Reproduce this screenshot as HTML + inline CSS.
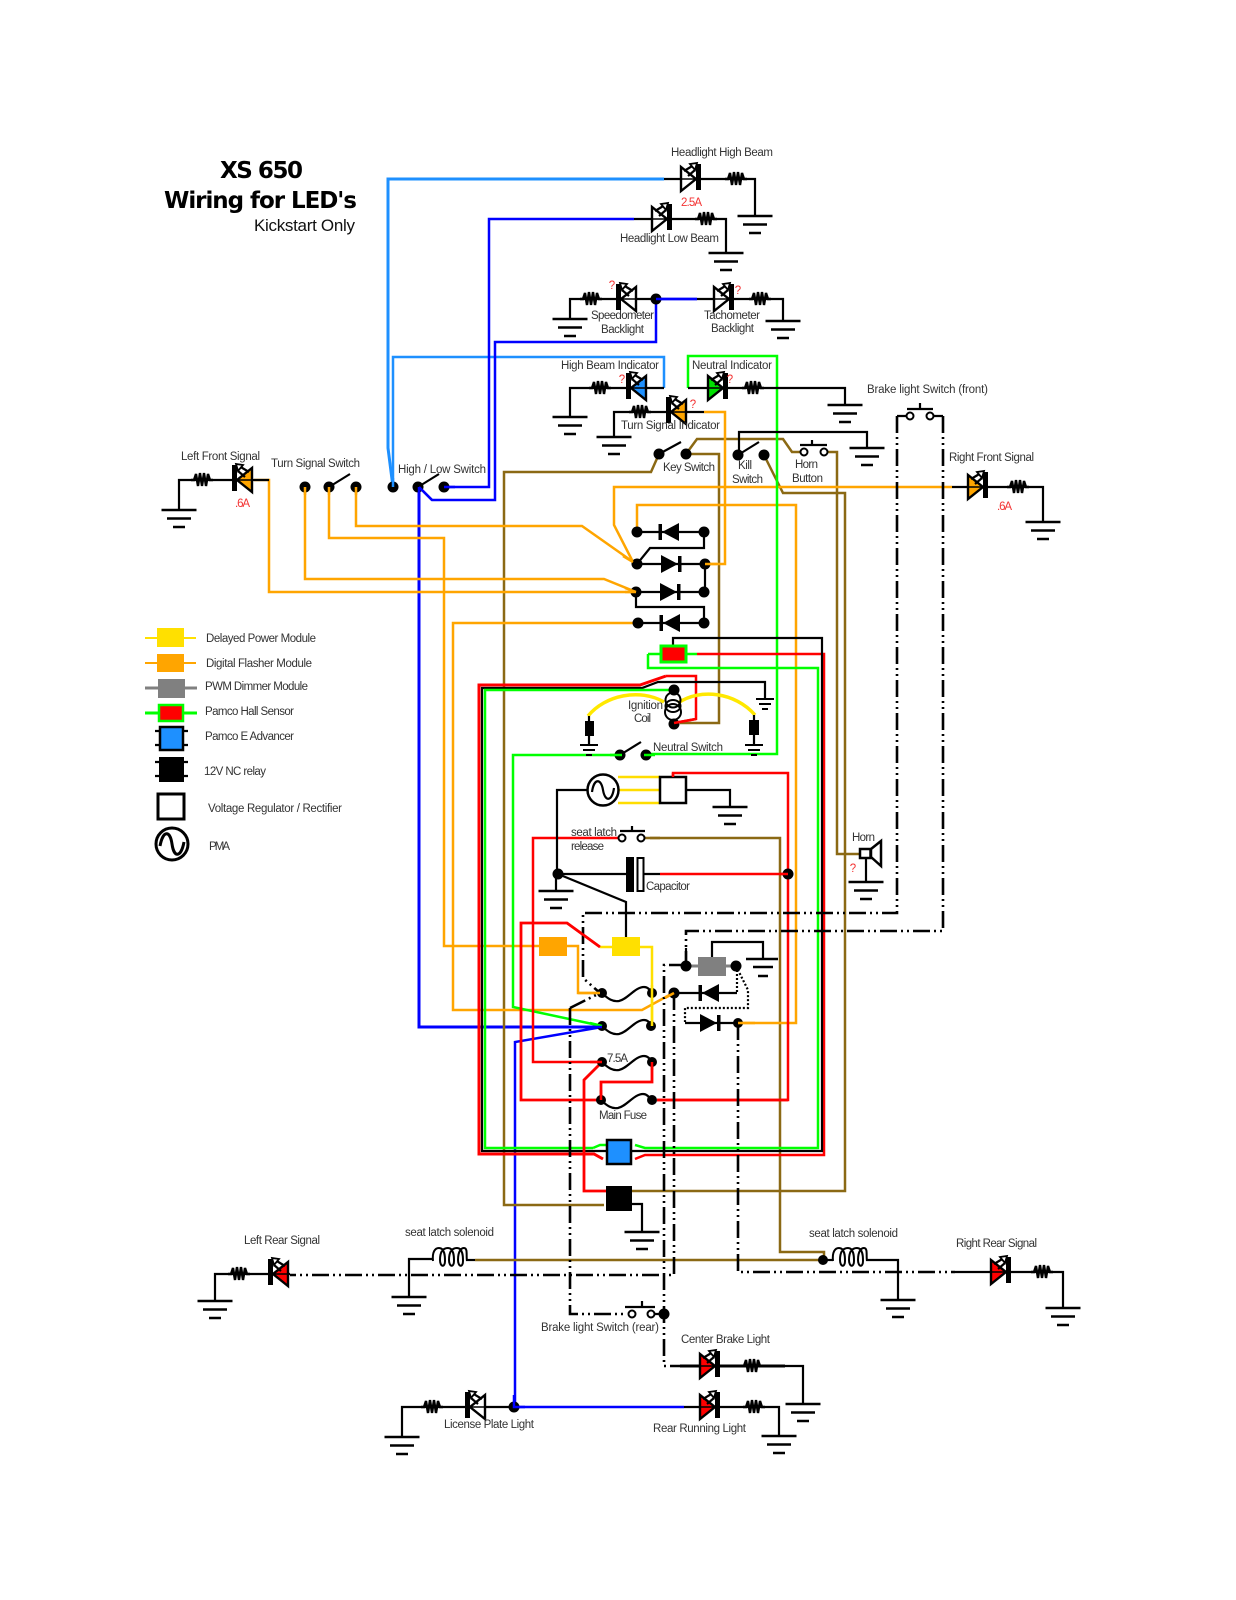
<!DOCTYPE html>
<html><head><meta charset="utf-8"><title>XS 650 Wiring for LED's</title>
<style>
html,body{margin:0;padding:0;background:#fff}
svg{display:block}
path,line{fill:none;stroke-linejoin:miter}
.k{stroke:#000;stroke-width:2.2}
.kt{stroke:#000;stroke-width:3}
.o{stroke:#FFA500;stroke-width:2.5}
.b{stroke:#0000FF;stroke-width:2.5}
.l{stroke:#1E90FF;stroke-width:2.5}
.lt{stroke:#1E90FF;stroke-width:3}
.g{stroke:#00FF00;stroke-width:2.5}
.r{stroke:#FF0000;stroke-width:2.5}
.rt{stroke:#FF0000;stroke-width:2.8}
.n{stroke:#8B6914;stroke-width:2.5}
.y{stroke:#FFE000;stroke-width:2.5}
.yt{stroke:#FFE800;stroke-width:3.5}
.d{stroke:#000;stroke-width:2.6;stroke-dasharray:17 4 2 4 2 4}
.dot{stroke:#000;stroke-width:2.2;stroke-dasharray:2 2}
text{font-family:"Liberation Sans",sans-serif;font-size:11.5px;fill:#333}
.q{fill:#f33333}
</style></head><body>
<svg width="1236" height="1600" viewBox="0 0 1236 1600" xmlns="http://www.w3.org/2000/svg">
<defs>
<g id="gnd"><path class="k" d="M-17.5,0H17.5M-12,8.5H12M-6,17H6" style="stroke-width:2.4"/></g>
<g id="sg"><path class="k" d="M-9,0H9M-6,5H6M-3,10H3" style="stroke-width:2"/></g>
<g id="res"><path class="k" d="M-11,0H-8L-6,-6L-4,6L-2,-7L0,6L2,-7L4,6L6,-6L8,0H11" style="stroke-width:2.4"/></g>
<g id="led"><path d="M-15,-12L-15,12L0,0Z" stroke="#000" stroke-width="2.4" style="fill:inherit"/><rect x="0" y="-15" width="5" height="26" fill="#000"/><path class="k" d="M-17,0H6" style="stroke-width:1.6"/><path class="k" d="M-12,-8L-2,-14M-8,-3L-1,-9"/><path d="M-6,-15L1,-16L-1,-9Z" stroke="#000" stroke-width="1.8" style="fill:#fff"/></g>
<g id="dio"><path d="M-9,-9V9L8,0Z" style="fill:#000"/><rect x="8" y="-8" width="3.5" height="16" fill="#000"/></g>
<g id="coil"><path class="k" d="M0,1C-1,-8 2,-12 6,-12C12,-12 12,-3 12,1C12,8 7,7 7,0C7,-10 11,-12 15,-12C21,-12 21,-3 21,1C21,8 16,7 16,0C16,-10 20,-12 24,-12C30,-12 30,-3 30,1C30,8 25,7 25,0C25,-10 29,-12 31,-12C35,-12 33,-4 34,1" style="stroke-width:2"/></g>
<path id="fuse" class="k" d="M0,0C6,6 11,9 17,8C26,6 33,-6 42,-6C46,-6 48,-3 50,0"/>
</defs>

<!-- Title -->
<text x="220" y="178" textLength="83" style="font-family:'DejaVu Sans',sans-serif;font-weight:bold;font-size:23px;fill:#000">XS 650</text>
<text x="164" y="208" textLength="193" style="font-family:'DejaVu Sans',sans-serif;font-weight:bold;font-size:23px;fill:#000">Wiring for LED's</text>
<text x="254" y="231" textLength="101" style="font-size:17px;fill:#111">Kickstart Only</text>

<!-- Long colored wires -->
<path class="lt" d="M664,179H388V448L393,487"/>
<path class="l" d="M393,487V357H664V388"/>
<path class="b" d="M634,219H489V487H444"/>
<path class="b" d="M656,299V342H495V500H432L419,487"/>
<path class="b" d="M697,299H656"/>
<path class="b" style="stroke-width:3" d="M419,487V1027H602"/>
<path class="b" d="M602,1027L515,1042V1407H684"/>

<path class="n" d="M659,454L651,472H504V1205H604"/>
<path class="n" d="M690,454H719V723H680"/>
<path class="n" d="M686,454L697,439H783L792,452H800"/>
<path class="n" d="M828,452H837V854H859"/>
<path class="n" d="M764,455L783,493H845V1191H631"/>
<path class="n" d="M475,1260H823M824,1259V1252H780V838H650"/>

<path class="o" d="M704,412H725V564H705"/>
<path class="o" d="M952,487H614V525L633,562"/>
<path class="o" d="M637,532V505H796V1023H738"/>
<path class="o" d="M356,487V526H582L636,564"/>
<path class="o" d="M329,487V538H444V946H539"/>
<path class="o" d="M305,487V579H604L636,592"/>
<path class="o" d="M254,480H269V592H636"/>
<path class="o" d="M638,623H453V1010H642L673,993"/>
<path class="o" d="M567,946H578V993H602"/>

<path class="g" d="M688,388V356H777V754H646"/>
<path class="g" d="M620,755H513V1007L602,1026"/>

<!-- Frame -->
<path class="rt" style="stroke-width:3" d="M666,676L640,685H479V1154H594L603,1159"/>
<path class="r" d="M666,676H696V719L674,723"/>
<path class="r" d="M697,654H824V1155H645L635,1159"/>
<path class="k" style="stroke-width:2.2" d="M673,645V638H822V1151H482V688H642L658,682H765V699"/>
<path class="g" d="M648,654V668H818V1148H645L635,1145"/>
<path class="g" d="M593,1148L600,1145H606"/>
<path class="g" d="M674,690H485V1148H593"/>
<path class="g" d="M660,654H648M687,654H697"/>

<!-- Red wiring -->
<path class="r" d="M673,777V773H788V1100H657"/>
<path class="rt" d="M657,1100H788"/>
<path class="rt" d="M601,1100H521V923H567L600,947"/>
<path class="r" d="M620,838H533V1062H602"/>
<path class="rt" d="M602,1062L584,1080V1191H606"/>
<path class="rt" d="M652,1062V1082H601V1100"/>
<path class="r" d="M660,874H788"/>

<!-- Dash-dot -->
<path class="d" d="M897,416V913H583V978L600,993"/>
<path class="d" d="M943,416V931H686V965"/>
<path class="d" d="M570,1008L600,993"/>
<path class="d" d="M570,1008V1314H627"/>
<path class="d" d="M686,965H664V1366H680"/>
<path class="d" d="M674,993V1275H290"/>
<path class="d" d="M738,1023V1272H955"/>
<path class="dot" d="M737,966V993"/>
<path class="dot" d="M736,966L748,990V1008H685V1022"/>

<!-- Headlights -->
<path class="k" d="M664,179H755V216"/>
<use href="#led" x="696" y="179" fill="#fff"/><use href="#res" x="736" y="179"/><use href="#gnd" x="755" y="216"/>
<text x="681" y="206" textLength="21" class="q">2.5A</text>
<text x="671" y="156" textLength="102">Headlight High Beam</text>
<path class="k" d="M634,219H726V253"/>
<use href="#led" x="667" y="219" fill="#fff"/><use href="#res" x="706" y="219"/><use href="#gnd" x="726" y="253"/>
<text x="620" y="242" textLength="99">Headlight Low Beam</text>

<!-- Backlights -->
<path class="k" d="M656,299H570V319"/>
<g transform="translate(621,299) scale(-1,1)"><use href="#led" fill="#fff"/></g>
<use href="#res" x="591" y="299"/><use href="#gnd" x="570" y="319"/>
<path class="k" d="M697,299H783V321"/>
<use href="#led" x="729" y="299" fill="#fff"/><use href="#res" x="760" y="299"/><use href="#gnd" x="783" y="321"/>
<circle cx="656" cy="299" r="5.5"/>
<path class="b" d="M656,299H697"/>
<text x="612" y="289" class="q" text-anchor="middle">?</text><text x="738" y="294" class="q" text-anchor="middle">?</text>
<text x="591" y="319" textLength="63">Speedometer</text><text x="601" y="333" textLength="43">Backlight</text>
<text x="704" y="319" textLength="56">Tachometer</text><text x="711" y="332" textLength="43">Backlight</text>

<!-- Indicators -->
<path class="k" d="M664,388H570V417"/>
<g transform="translate(631,388) scale(-1,1)"><use href="#led" fill="#1E90FF"/></g>
<use href="#res" x="600" y="388"/><use href="#gnd" x="570" y="417"/>
<path class="k" d="M688,388H845V405"/>
<use href="#led" x="723" y="388" fill="#00E000"/><use href="#res" x="753" y="388"/><use href="#gnd" x="845" y="405"/>
<path class="k" d="M704,412H614V437"/>
<g transform="translate(671,412) scale(-1,1)"><use href="#led" fill="#FFA500"/></g>
<use href="#res" x="640" y="412"/><use href="#gnd" x="614" y="437"/>
<text x="561" y="369" textLength="98">High Beam Indicator</text><text x="622" y="383" class="q" text-anchor="middle">?</text>
<text x="692" y="369" textLength="80">Neutral Indicator</text><text x="730" y="383" class="q" text-anchor="middle">?</text>
<text x="621" y="429" textLength="99">Turn Signal Indicator</text><text x="693" y="408" class="q" text-anchor="middle">?</text>

<!-- Switches top -->
<circle cx="659" cy="454" r="5.5"/><circle cx="686" cy="454" r="5.5"/><path class="k" d="M659,454L681,442"/>
<text x="663" y="471" textLength="52">Key Switch</text>
<path class="k" d="M739,455V432H867V448"/><use href="#gnd" x="867" y="448"/>
<circle cx="738" cy="455" r="5.5"/><circle cx="764" cy="455" r="5.5"/><path class="k" d="M738,455L759,442"/>
<text x="738" y="469" textLength="14">Kill</text><text x="732" y="483" textLength="31">Switch</text>
<circle cx="804" cy="452" r="3.5" fill="#fff" stroke="#000" stroke-width="2"/><circle cx="824" cy="452" r="3.5" fill="#fff" stroke="#000" stroke-width="2"/>
<path class="k" d="M800,445H827M812,440V445"/>
<text x="795" y="468" textLength="23">Horn</text><text x="792" y="482" textLength="31">Button</text>
<path class="k" d="M897,416H906M934,416H943"/>
<circle cx="910" cy="416" r="3.5" fill="#fff" stroke="#000" stroke-width="2"/><circle cx="930" cy="416" r="3.5" fill="#fff" stroke="#000" stroke-width="2"/>
<path class="k" d="M907,409H933M920,403V409"/>
<text x="867" y="393" textLength="121">Brake light Switch (front)</text>

<!-- Right Front -->
<path class="k" d="M952,487H1043V522"/>
<use href="#led" x="983" y="487" fill="#FFA500"/><use href="#res" x="1018" y="487"/><use href="#gnd" x="1043" y="522"/>
<text x="949" y="461" textLength="85">Right Front Signal</text><text x="997" y="510" textLength="15" class="q">.6A</text>

<!-- Left Front -->
<path class="k" d="M269,480H179V510"/>
<g transform="translate(237,480) scale(-1,1)"><use href="#led" fill="#FFA500"/></g>
<use href="#res" x="202" y="480"/><use href="#gnd" x="179" y="510"/>
<text x="181" y="460" textLength="79">Left Front Signal</text><text x="235" y="507" textLength="15" class="q">.6A</text>

<!-- Turn & hi/lo switches -->
<circle cx="305" cy="487" r="5.5"/><circle cx="329" cy="487" r="5.5"/><circle cx="356" cy="487" r="5.5"/><path class="k" d="M329,487L350,474"/>
<text x="271" y="467" textLength="89">Turn Signal Switch</text>
<circle cx="393" cy="487" r="5.5"/><circle cx="418" cy="487" r="5.5"/><circle cx="444" cy="487" r="5.5"/><path class="k" d="M418,487L439,474"/>
<text x="398" y="473" textLength="88">High / Low Switch</text>
<path class="o" d="M305,487V495M329,487V495M356,487V495"/>
<path class="b" d="M419,487V495M419,487L432,500"/><path class="b" d="M444,487H455"/><path class="l" d="M393,487V478"/>

<!-- Diodes -->
<path class="k" d="M637,532H704V548H650L637,564H705V592H636V607H704V623H638"/>
<use href="#dio" transform="translate(670,532) scale(-1,1)"/>
<use href="#dio" x="670" y="564"/><use href="#dio" x="669" y="592"/>
<use href="#dio" transform="translate(671,623) scale(-1,1)"/>
<circle cx="637" cy="532" r="5.5"/><circle cx="704" cy="532" r="5.5"/>
<circle cx="637" cy="564" r="5.5"/><circle cx="705" cy="564" r="5.5"/>
<circle cx="636" cy="592" r="5.5"/><circle cx="704" cy="592" r="5.5"/>
<circle cx="638" cy="623" r="5.5"/><circle cx="704" cy="623" r="5.5"/>
<path class="o" d="M633,562L623,556M636,592L625,588M636,592H625M705,564H717"/>

<!-- Hall sensor -->
<rect x="661" y="646" width="25" height="16" fill="#f00" stroke="#00FF00" stroke-width="3"/>

<!-- Ignition coil -->
<path class="yt" d="M588,716C605,695 640,688 664,702"/>
<path class="yt" d="M678,703C700,688 735,692 755,715"/>
<circle cx="674" cy="690" r="5.5"/><circle cx="674" cy="724" r="5.5"/>
<circle cx="673" cy="700" r="7.5" fill="none" stroke="#000" stroke-width="2"/>
<circle cx="673" cy="712" r="8" fill="none" stroke="#000" stroke-width="2"/>
<ellipse cx="673" cy="706" rx="7.5" ry="6" fill="none" stroke="#000" stroke-width="2"/>
<path class="r" d="M696,719L674,723"/>
<path class="k" d="M589,716V745"/><rect x="585" y="721" width="9" height="15"/><use href="#sg" x="589" y="745"/>
<path class="k" d="M754,715V745"/><rect x="749" y="720" width="10" height="15"/><use href="#sg" x="754" y="745"/>
<use href="#sg" x="765" y="699"/>
<text x="628" y="709" textLength="35">Ignition</text><text x="634" y="722" textLength="17">Coil</text>

<!-- Neutral switch -->
<circle cx="620" cy="755" r="5.5"/><circle cx="646" cy="755" r="5.5"/><path class="k" d="M620,755L641,742"/>
<path class="g" d="M610,755H622M644,755H655"/>
<text x="653" y="751" textLength="70">Neutral Switch</text>

<!-- PMA & VR -->
<path class="k" d="M587,790H557V874"/><path class="k" d="M556,874V891"/><use href="#gnd" x="556" y="891"/>
<path class="y" d="M618,777H660M619,790H660M618,803H660" style="stroke:#FFDD00;stroke-width:2.5"/>
<circle cx="603" cy="790" r="15.5" fill="#fff" stroke="#000" stroke-width="2.5"/>
<path class="k" d="M592,792C594,778 601,778 603,790C605,802 612,802 614,788"/>
<rect x="660" y="777" width="26" height="26" fill="#fff" stroke="#000" stroke-width="2.5"/>
<path class="k" d="M686,790H730V807"/><use href="#gnd" x="730" y="807"/>
<path class="r" d="M673,777V773"/>

<!-- Seat latch release -->
<path class="n" d="M645,838H660"/>
<circle cx="622" cy="838" r="3.5" fill="#fff" stroke="#000" stroke-width="2"/><circle cx="641" cy="838" r="3.5" fill="#fff" stroke="#000" stroke-width="2"/>
<path class="k" d="M620,831H645M632,826V831"/>
<text x="571" y="836" textLength="46">seat latch</text><text x="571" y="850" textLength="33">release</text>

<!-- Capacitor -->
<path class="k" d="M558,874H626M643,874H660"/>
<circle cx="558" cy="874" r="5.5"/>
<rect x="626" y="857" width="8" height="35"/>
<rect x="637.500" y="858" width="6" height="33" fill="#fff" stroke="#000" stroke-width="2"/>
<circle cx="788" cy="874" r="5.5"/><path class="r" d="M780,874H788"/>
<text x="646" y="890" textLength="44">Capacitor</text>
<path class="k" d="M558,874L626,902V937"/>

<!-- Modules -->
<rect x="539" y="937" width="28" height="19" fill="#FFA500"/>
<path class="y" d="M600,947H612M640,947H652V1026"/>
<rect x="612" y="937" width="28" height="19" fill="#FFE000"/>
<path class="r" d="M567,923L600,947"/>

<!-- Dimmer -->
<path class="k" d="M712,957V942H763V959"/>
<g transform="translate(763,959)"><path class="k" d="M-17,0H15M-10,8H10M-5,17H5" style="stroke-width:2.4"/></g>
<path d="M686,966H736" stroke="#808080" stroke-width="3"/>
<rect x="698" y="957" width="28" height="19" fill="#808080"/>
<circle cx="686" cy="966" r="5.5"/><circle cx="736" cy="966" r="5.5"/>
<path class="k" d="M686,966V948"/>
<path class="k" d="M674,993H737"/>
<g transform="translate(710,993) scale(-1,1)"><use href="#dio"/></g>
<path class="k" d="M685,1023H738"/>
<use href="#dio" x="709" y="1023"/>
<circle cx="738" cy="1023" r="5"/>
<path class="o" d="M738,1023H755"/>

<!-- Fuses -->
<use href="#fuse" x="602" y="993"/><use href="#fuse" x="602" y="1026"/><use href="#fuse" x="602" y="1062"/><use href="#fuse" x="601" y="1100"/>
<circle cx="602" cy="993" r="5"/><circle cx="652" cy="993" r="5"/><circle cx="602" cy="1026" r="5"/><circle cx="651" cy="1026" r="5"/>
<circle cx="602" cy="1062" r="5"/><circle cx="652" cy="1062" r="5"/><circle cx="601" cy="1100" r="5"/><circle cx="652" cy="1100" r="5"/>
<circle cx="674" cy="993" r="5.5"/>
<path class="o" d="M665,998L674,993M578,993H600"/>
<path class="y" d="M652,985V1026"/>
<path class="g" d="M590,1023L602,1026"/><path class="b" d="M590,1027H602"/>
<path class="r" d="M590,1062H602M652,1062V1070M601,1100V1090"/>
<text x="607" y="1062" textLength="21">7.5A</text>
<text x="599" y="1119" textLength="48">Main Fuse</text>

<!-- Advancer & Relay -->
<rect x="607" y="1140" width="24" height="24" fill="#1E90FF" stroke="#000" stroke-width="2.5"/>
<rect x="606" y="1186" width="26" height="25"/>
<path class="k" d="M632,1204H642V1232"/><use href="#gnd" x="642" y="1232"/>

<!-- Horn -->
<path class="k" d="M866,858V882"/><use href="#gnd" x="866" y="882"/>
<rect x="860" y="849" width="10.500" height="9" fill="#fff" stroke="#000" stroke-width="2.5"/>
<path d="M871,849L881,841V866L871,857Z" stroke="#000" stroke-width="2.5" style="fill:#fff"/>
<text x="852" y="841" textLength="23">Horn</text><text x="853" y="872" class="q" text-anchor="middle">?</text>

<!-- Rear left -->
<path class="k" d="M290,1274H215V1301"/>
<g transform="translate(273,1274) scale(-1,1)"><use href="#led" fill="#f00"/></g>
<use href="#res" x="239" y="1274"/><use href="#gnd" x="215" y="1301"/>
<text x="244" y="1244" textLength="76">Left Rear Signal</text>
<path class="k" d="M409,1297V1259H433"/><use href="#gnd" x="409" y="1297"/>
<use href="#coil" x="433" y="1260"/><path class="k" d="M467,1260H475"/>
<text x="405" y="1236" textLength="89">seat latch solenoid</text>

<!-- Rear right -->
<circle cx="823" cy="1260" r="5"/>
<path class="k" d="M823,1260H833"/><use href="#coil" x="833" y="1260"/><path class="k" d="M867,1260H898V1300"/>
<use href="#gnd" x="898" y="1300"/>
<text x="809" y="1237" textLength="89">seat latch solenoid</text>
<path class="k" d="M955,1272H1063V1308"/>
<use href="#led" x="1006" y="1272" fill="#f00"/><use href="#res" x="1042" y="1272"/><use href="#gnd" x="1063" y="1308"/>
<text x="956" y="1247" textLength="81">Right Rear Signal</text>

<!-- Rear brake switch -->
<circle cx="632" cy="1314" r="3.5" fill="#fff" stroke="#000" stroke-width="2"/><circle cx="651" cy="1314" r="3.5" fill="#fff" stroke="#000" stroke-width="2"/>
<path class="k" d="M625,1307H655M642,1301V1307M654,1314H664"/>
<circle cx="664" cy="1314" r="5.5"/>
<text x="541" y="1331" textLength="118">Brake light Switch (rear)</text>

<!-- Center brake -->
<path class="kt" d="M680,1366H785"/><path class="k" d="M785,1366H803V1404"/>
<use href="#led" x="715" y="1366" fill="#f00"/><use href="#res" x="752" y="1366"/><use href="#gnd" x="803" y="1404"/>
<text x="681" y="1343" textLength="89">Center Brake Light</text>

<!-- Rear running -->
<path class="k" d="M684,1407H779V1436"/>
<use href="#led" x="715" y="1407" fill="#f00"/><use href="#res" x="754" y="1407"/><use href="#gnd" x="779" y="1436"/>
<text x="653" y="1432" textLength="93">Rear Running Light</text>

<!-- License -->
<path class="k" d="M514,1407H402V1437"/>
<g transform="translate(470,1407) scale(-1,1)"><use href="#led" fill="#fff"/></g>
<use href="#res" x="432" y="1407"/><use href="#gnd" x="402" y="1437"/>
<circle cx="514" cy="1407" r="5.5"/><path class="b" d="M514,1395V1407H525"/>
<text x="444" y="1428" textLength="90">License Plate Light</text>

<!-- Legend -->
<path d="M145,638H196" stroke="#FFE000" stroke-width="2"/><rect x="157" y="628" width="27" height="19" fill="#FFE000"/>
<text x="206" y="642" textLength="110">Delayed Power Module</text>
<path d="M145,663H196" stroke="#FFA500" stroke-width="2"/><rect x="157" y="654" width="27" height="18" fill="#FFA500"/>
<text x="206" y="667" textLength="106">Digital Flasher Module</text>
<path d="M145,688H197" stroke="#808080" stroke-width="3"/><rect x="158" y="679" width="27" height="19" fill="#808080"/>
<text x="205" y="690" textLength="103">PWM Dimmer Module</text>
<path d="M145,713H197" stroke="#00FF00" stroke-width="3"/><rect x="159" y="705" width="24" height="16" fill="#f00" stroke="#00FF00" stroke-width="2.500"/>
<text x="205" y="715" textLength="89">Pamco Hall Sensor</text>
<path class="k" d="M155,731H188M155,745H188"/><rect x="160" y="727" width="23" height="23" fill="#1E90FF" stroke="#000" stroke-width="2.500"/>
<text x="205" y="740" textLength="89">Pamco E Advancer</text>
<path class="k" d="M155,762H188M155,776H188"/><rect x="159" y="757" width="25" height="25"/>
<text x="204" y="775" textLength="62">12V NC relay</text>
<rect x="158" y="794" width="26" height="25" fill="#fff" stroke="#000" stroke-width="3"/>
<text x="208" y="812" textLength="134">Voltage Regulator / Rectifier</text>
<circle cx="172" cy="844" r="16" fill="#fff" stroke="#000" stroke-width="3"/>
<path class="kt" d="M160,846C163,830 170,830 172,844C174,858 181,858 184,842"/>
<text x="209" y="850" textLength="21">PMA</text>
</svg>
</body></html>
